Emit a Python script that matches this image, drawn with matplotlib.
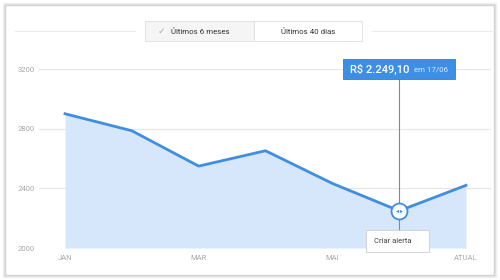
import matplotlib
matplotlib.use("Agg")
import matplotlib.pyplot as plt
from matplotlib.patches import Rectangle

plt.rcParams['font.family'] = ['Roboto', 'DejaVu Sans']

# data
months = ["JAN", "FEV", "MAR", "ABR", "MAI", "JUN", "ATUAL"]
prices = [2900, 2786, 2549, 2652, 2433, 2249.10, 2420]
tick_idx = [0, 2, 4, 6]
tick_labels = ["JAN", "MAR", "MAI", "ATUAL"]
y_ticks = [2000, 2400, 2800, 3200]
sel_idx = 5
tooltip_value = "R$ 2.249,10"
tooltip_date = "em 17/06"
toggle_labels = ["Últimos 6 meses", "Últimos 40 dias"]
alert_label = "Criar alerta"

W, H = 500, 280
fig = plt.figure(figsize=(W / 100, H / 100), dpi=100)
fig.patch.set_facecolor("white")

def fx(x):
    return x / W

def fy(y):
    return 1 - y / H

# card with soft shadow
for i, c in enumerate(["#f2f2f2", "#e4e4e4", "#d2d2d2"]):
    o = 2 - i
    fig.add_artist(Rectangle((fx(5 - o), fy(275 + o)), (489 + 2 * o) / W, (270 + 2 * o) / H,
                             transform=fig.transFigure, facecolor="none" if i < 2 else "white",
                             edgecolor=c, lw=1.0, zorder=-5 + i))

ax = fig.add_axes([fx(39), fy(248), (491 - 39) / W, (248 - 69) / H])
ax.set_facecolor("none")
x = list(range(len(prices)))
ax.fill_between(x, prices, 2000, color="#d6e7fb", lw=0, zorder=1)
ax.plot(x, prices, color="#3f8ee0", lw=2.0, solid_joinstyle="round", zorder=3)
ax.set_ylim(2000, 3200)
ax.set_xlim(-26 / 66.83, 6 + 25 / 66.83)
for yt in y_ticks:
    ax.axhline(yt, color="#e6e6e6", lw=0.8, zorder=0)
ax.set_yticks(y_ticks)
ax.set_yticklabels([str(v) for v in y_ticks])
ax.set_xticks(tick_idx)
ax.set_xticklabels(tick_labels)
ax.tick_params(axis="both", length=0, labelsize=5.5, colors="#a8a8a8")
ax.tick_params(axis="y", pad=3)
ax.tick_params(axis="x", pad=5)
for s in ax.spines.values():
    s.set_visible(False)

# selected point: vertical line + marker
ax.plot([sel_idx, sel_idx], [2000 + 10 * 6.7, 3200 - 67], color="#5d90cc", lw=0.8,
        clip_on=False, zorder=4)
ax.plot([sel_idx], [prices[sel_idx]], marker="o", ms=11.5, mfc="white", mec="#3f8ee0",
        mew=1.3, zorder=6, clip_on=False)
ax.plot([sel_idx - 0.025], [prices[sel_idx]], marker="<", ms=2.2, color="#3f8ee0",
        mew=0, zorder=7, clip_on=False)
ax.plot([sel_idx + 0.025], [prices[sel_idx]], marker=">", ms=2.2, color="#3f8ee0",
        mew=0, zorder=7, clip_on=False)

# tooltip
fig.add_artist(Rectangle((fx(343), fy(79)), 112 / W, 20 / H, transform=fig.transFigure,
                         facecolor="#3d8fe6", edgecolor="#2f7fd6", lw=0.6, zorder=8))
fig.text(fx(350), fy(69.5), tooltip_value, color="white", fontsize=8.0, fontweight=500,
         ha="left", va="center", zorder=9)
fig.text(fx(414), fy(70), tooltip_date, color="#dce9fb", fontsize=5.7,
         ha="left", va="center", zorder=9)

# criar alerta box
fig.add_artist(Rectangle((fx(367), fy(253)), 63 / W, 22 / H, transform=fig.transFigure,
                         facecolor="#e6e6e6", edgecolor="none", lw=0, zorder=8))
fig.add_artist(Rectangle((fx(366), fy(252)), 63 / W, 22 / H, transform=fig.transFigure,
                         facecolor="white", edgecolor="#cfcfcf", lw=0.6, zorder=9))
fig.text(fx(374), fy(241), alert_label, color="#444444", fontsize=5.5,
         ha="left", va="center", zorder=10)

# toggle
fig.add_artist(plt.Line2D([fx(15), fx(135)], [fy(31), fy(31)], transform=fig.transFigure,
                          color="#ececec", lw=0.8))
fig.add_artist(plt.Line2D([fx(372), fx(492)], [fy(31), fy(31)], transform=fig.transFigure,
                          color="#ececec", lw=0.8))
fig.add_artist(Rectangle((fx(145), fy(41)), 109 / W, 20 / H, transform=fig.transFigure,
                         facecolor="#f5f5f5", edgecolor="#dedede", lw=0.6, zorder=5))
fig.add_artist(Rectangle((fx(254), fy(41)), 108 / W, 20 / H, transform=fig.transFigure,
                         facecolor="white", edgecolor="#dedede", lw=0.6, zorder=5))
fig.text(fx(158), fy(31.5), "✓", color="#aaaaaa", fontsize=6.5, ha="left", va="center",
         family=["DejaVu Sans"], zorder=6)
fig.text(fx(171), fy(31.5), toggle_labels[0], color="#333333", fontsize=5.7,
         ha="left", va="center", zorder=6)
fig.text(fx(308), fy(31.5), toggle_labels[1], color="#333333", fontsize=5.7,
         ha="center", va="center", zorder=6)

fig.savefig("out.png", dpi=100)
